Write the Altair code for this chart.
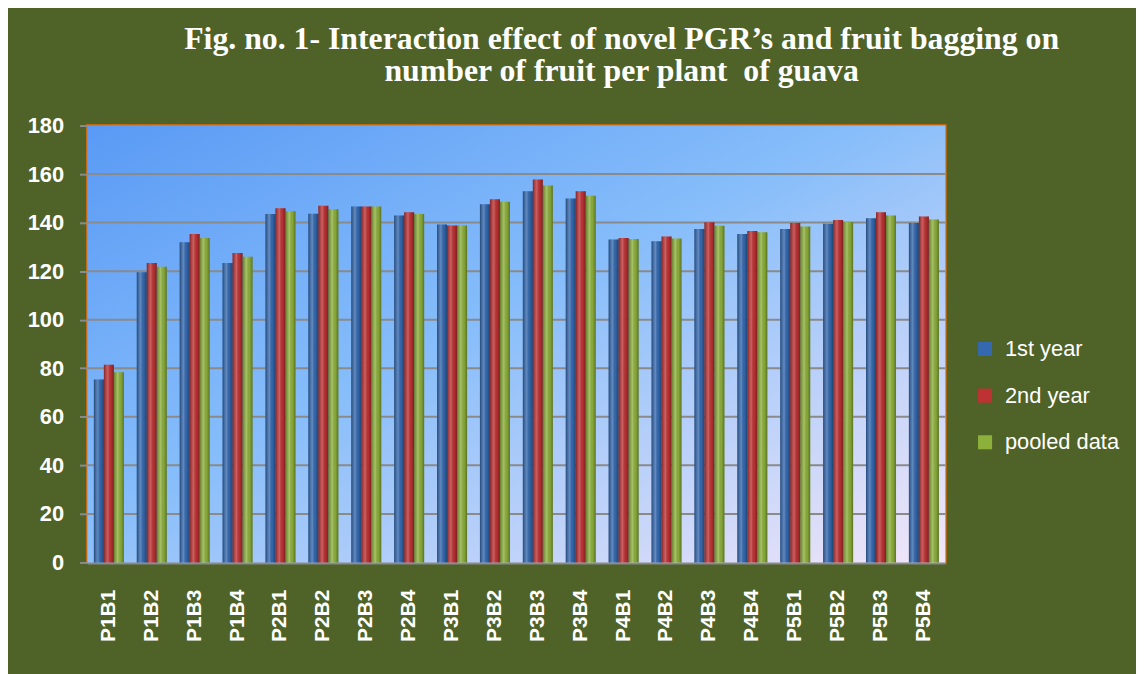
import altair as alt
import pandas as pd

categories = ["P1B1", "P1B2", "P1B3", "P1B4", "P2B1", "P2B2", "P2B3", "P2B4",
              "P3B1", "P3B2", "P3B3", "P3B4", "P4B1", "P4B2", "P4B3", "P4B4",
              "P5B1", "P5B2", "P5B3", "P5B4"]
series = ["1st year", "2nd year", "pooled data"]
year1 = [75.4, 119.6, 131.9, 123.4, 143.5, 143.7, 146.6, 142.9, 139.2, 147.6,
         152.9, 149.9, 133.0, 132.3, 137.4, 135.3, 137.4, 139.5, 141.8, 139.8]
year2 = [81.4, 123.4, 135.3, 127.5, 145.9, 146.9, 146.6, 144.3, 138.8, 149.6,
         157.8, 152.9, 133.7, 134.3, 140.2, 136.5, 139.8, 141.1, 144.3, 142.5]
pooled = [78.4, 121.8, 133.7, 125.9, 144.7, 145.5, 146.6, 143.6, 138.8, 148.6,
          155.3, 151.1, 133.3, 133.5, 138.7, 136.0, 138.4, 140.3, 142.9, 141.3]
colors = ["#3469B0", "#BE3234", "#8DB03B"]
y_ticks = list(range(0, 181, 20))

W, H = 864, 440

rows = []
for s, vals in zip(series, [year1, year2, pooled]):
    for c, v in zip(categories, vals):
        rows.append({"cat": c, "series": s, "value": v})
df = pd.DataFrame(rows)

plot_bg = alt.Chart(pd.DataFrame({"a": [0]})).mark_rect(
    fill=alt.Gradient(
        gradient="linear", x1=0, y1=0, x2=1, y2=1,
        stops=[alt.GradientStop(color="#5A9AF5", offset=0),
               alt.GradientStop(color="#86BDFA", offset=0.45),
               alt.GradientStop(color="#F3E6F8", offset=1)]),
).encode(x=alt.value(0), x2=alt.value(W), y=alt.value(0), y2=alt.value(H))

grid = alt.Chart(pd.DataFrame({"t": y_ticks[1:-1]})).mark_rule(
    color="#8A8A8A", strokeWidth=2
).encode(y=alt.Y("t:Q"))

base = alt.Chart(df).encode(
    x=alt.X("cat:N", sort=categories,
            scale=alt.Scale(paddingInner=0.3, paddingOuter=0.15),
            axis=alt.Axis(title=None, labelAngle=270, ticks=False,
                          labelFontSize=21, labelFontWeight="bold",
                          labelColor="white", labelFont="Liberation Sans",
                          labelPadding=27, domainColor="#8A8A8A",
                          domainWidth=3, grid=False)),
    xOffset=alt.XOffset("series:N", sort=series,
                        scale=alt.Scale(domain=series, paddingInner=0, paddingOuter=0)),
    y=alt.Y("value:Q", scale=alt.Scale(domain=[0, 180], nice=False),
            axis=alt.Axis(title=None, values=y_ticks, labelFontSize=22,
                          labelFontWeight="bold", labelColor="white",
                          labelFont="Liberation Sans", labelPadding=16,
                          tickSize=8, tickColor="#8A8A8A", tickWidth=2,
                          domainColor="#8A8A8A", domainWidth=2, grid=False)),
)

bars = base.mark_bar(strokeWidth=0).encode(
    color=alt.Color("series:N", sort=series,
                    scale=alt.Scale(domain=series, range=colors),
                    legend=alt.Legend(title=None, orient="none", legendX=893,
                                      legendY=214, labelFontSize=22,
                                      labelColor="white",
                                      labelFont="Liberation Sans",
                                      symbolType="square", symbolSize=200,
                                      symbolStrokeWidth=0, rowPadding=25,
                                      labelOffset=9))
)

shine = base.mark_bar(
    fill=alt.Gradient(
        gradient="linear", x1=0, x2=1, y1=0, y2=0,
        stops=[alt.GradientStop(color="rgba(0,0,0,0.30)", offset=0),
               alt.GradientStop(color="rgba(255,255,255,0.22)", offset=0.4),
               alt.GradientStop(color="rgba(0,0,0,0.05)", offset=0.7),
               alt.GradientStop(color="rgba(0,0,0,0.35)", offset=1)]),
    strokeWidth=0,
)

chart = alt.layer(plot_bg, grid, bars, shine).properties(
    width=W,
    height=H,
    autosize=alt.AutoSizeParams(type="none"),
    padding={"left": 80, "top": 116, "right": 192, "bottom": 110},
    background="#4F6228",
    title=alt.TitleParams(
        text=["Fig. no. 1- Interaction effect of novel PGR\u2019s and fruit bagging on",
              "number of fruit per plant \u00a0of guava"],
        font="Liberation Serif", fontSize=32, fontWeight="bold",
        color="white", anchor="middle", dx=106, offset=27, lineHeight=32),
).configure_view(
    stroke="#E46C0A",
    strokeWidth=2.5,
)

chart.save("out.html", embed_options={"renderer": "svg", "actions": False})
